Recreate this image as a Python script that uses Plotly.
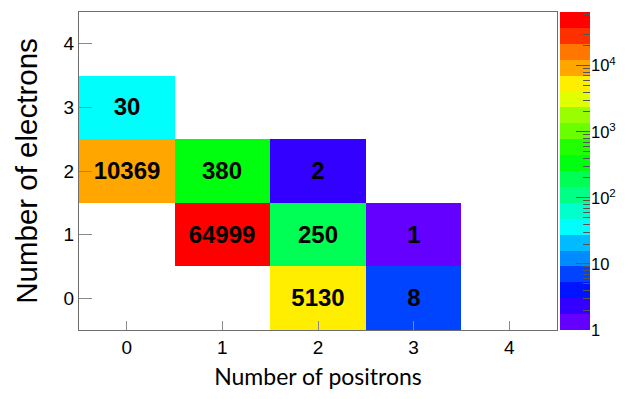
import math
import colorsys
import plotly.graph_objects as go

# Bin axes
n_positrons = [0, 1, 2, 3, 4]
n_electrons = [0, 1, 2, 3, 4]

# Filled cells: (positrons, electrons) -> entries
cell_positrons = [0, 0, 1, 2, 1, 2, 3, 2, 3]
cell_electrons = [3, 2, 2, 2, 1, 1, 1, 0, 0]
cell_counts = [30, 10369, 380, 2, 64999, 250, 1, 5130, 8]

# Colour scale limits (log z) and palette levels
z_min = 1
z_max = 64999
n_levels = 20

# Colour bar tick labels
cbar_major = [1, 10, 100, 1000, 10000]
cbar_labels = ["1", "10", "10<sup>2</sup>", "10<sup>3</sup>", "10<sup>4</sup>"]


def pretty_color(level):
    """Violet->red 'pretty' palette of 50 hues, sampled for a contour level."""
    idx = int((level + 0.99) * 50 / n_levels)
    hue = 0.0 if idx >= 49 else 280.0 - (idx + 1) * 280.0 / 50
    r, g, b = colorsys.hls_to_rgb(hue / 360.0, 0.5, 1.0)
    return f"rgb({round(r * 255)},{round(g * 255)},{round(b * 255)})"


lz_min = math.log10(z_min)
lz_max = math.log10(z_max)

colorscale = []
for j in range(n_levels):
    c = pretty_color(j)
    colorscale.append([j / n_levels, c])
    colorscale.append([(j + 1) / n_levels, c])

# Build the 2D grid (rows = electrons, columns = positrons)
z = [[None for _ in n_positrons] for _ in n_electrons]
txt = [["" for _ in n_positrons] for _ in n_electrons]
for px, ey, cnt in zip(cell_positrons, cell_electrons, cell_counts):
    z[ey][px] = math.log10(cnt)
    txt[ey][px] = str(cnt)

fig = go.Figure()

fig.add_trace(go.Heatmap(
    x=n_positrons, y=n_electrons, z=z, text=txt,
    texttemplate="%{text}",
    textfont=dict(family="Liberation Sans, Arial, sans-serif", size=24,
                  color="black", weight="bold"),
    zmin=lz_min, zmax=lz_max, colorscale=colorscale,
    showscale=False, hoverongaps=False,
    xaxis="x", yaxis="y",
))

# Palette bar drawn as a one-column heatmap on its own axes
band_centres = [lz_min + (j + 0.5) * (lz_max - lz_min) / n_levels for j in range(n_levels)]
fig.add_trace(go.Heatmap(
    x=[0], y=band_centres, z=[[v] for v in band_centres],
    zmin=lz_min, zmax=lz_max, colorscale=colorscale,
    showscale=False, hoverinfo="skip",
    xaxis="x2", yaxis="y2",
))

minor_vals = []
for dec in range(0, 5):
    for k in range(2, 10):
        v = k * 10 ** dec
        if v < z_max:
            minor_vals.append(math.log10(v))

W, H = 630, 399
ml, mr, mt, mb = 79, 10, 12, 69
pw = W - ml - mr
frame_right = 557
cb_left, cb_right = 560, 590


def px_to_dom(xpx):
    return (xpx - ml) / pw


axis_common = dict(
    range=[-0.5, 4.5], tickvals=[0, 1, 2, 3, 4], ticks="inside",
    tickcolor="#8a8a8a", tickwidth=1,
    showline=True, linecolor="#6e6e6e", linewidth=1, mirror=True,
    showgrid=False, zeroline=False,
    tickfont=dict(family="Liberation Sans, Arial, sans-serif", size=19, color="black"),
)

fig.update_layout(
    width=W, height=H,
    margin=dict(l=ml, r=mr, t=mt, b=mb, autoexpand=False),
    paper_bgcolor="white", plot_bgcolor="white",
    showlegend=False,
    xaxis=dict(
        axis_common, domain=[0, px_to_dom(frame_right)], anchor="y", ticklen=9,
        title=dict(text="Number of positrons", standoff=12,
                   font=dict(family="Lato, Carlito, sans-serif", size=23, color="black")),
    ),
    yaxis=dict(
        axis_common, domain=[0, 1], anchor="x", ticklen=13,
        title=dict(text="Number of electrons", standoff=17,
                   font=dict(family="Liberation Sans, Arial, sans-serif", size=29.5, color="black")),
    ),
    xaxis2=dict(
        domain=[px_to_dom(cb_left), px_to_dom(cb_right)], anchor="y2",
        range=[-0.5, 0.5], visible=False, fixedrange=True,
    ),
    yaxis2=dict(
        domain=[0, 1], anchor="x2", side="right",
        range=[lz_min, lz_max],
        tickvals=[math.log10(v) for v in cbar_major], ticktext=cbar_labels,
        ticks="inside", ticklen=14, tickcolor="#555555", tickwidth=1,
        minor=dict(tickvals=minor_vals, ticks="inside", ticklen=7,
                   tickcolor="#555555", tickwidth=1),
        showline=False, showgrid=False, zeroline=False,
        tickfont=dict(family="Liberation Sans, Arial, sans-serif", size=16.5, color="black"),
    ),
)

fig.write_html("out.html")
